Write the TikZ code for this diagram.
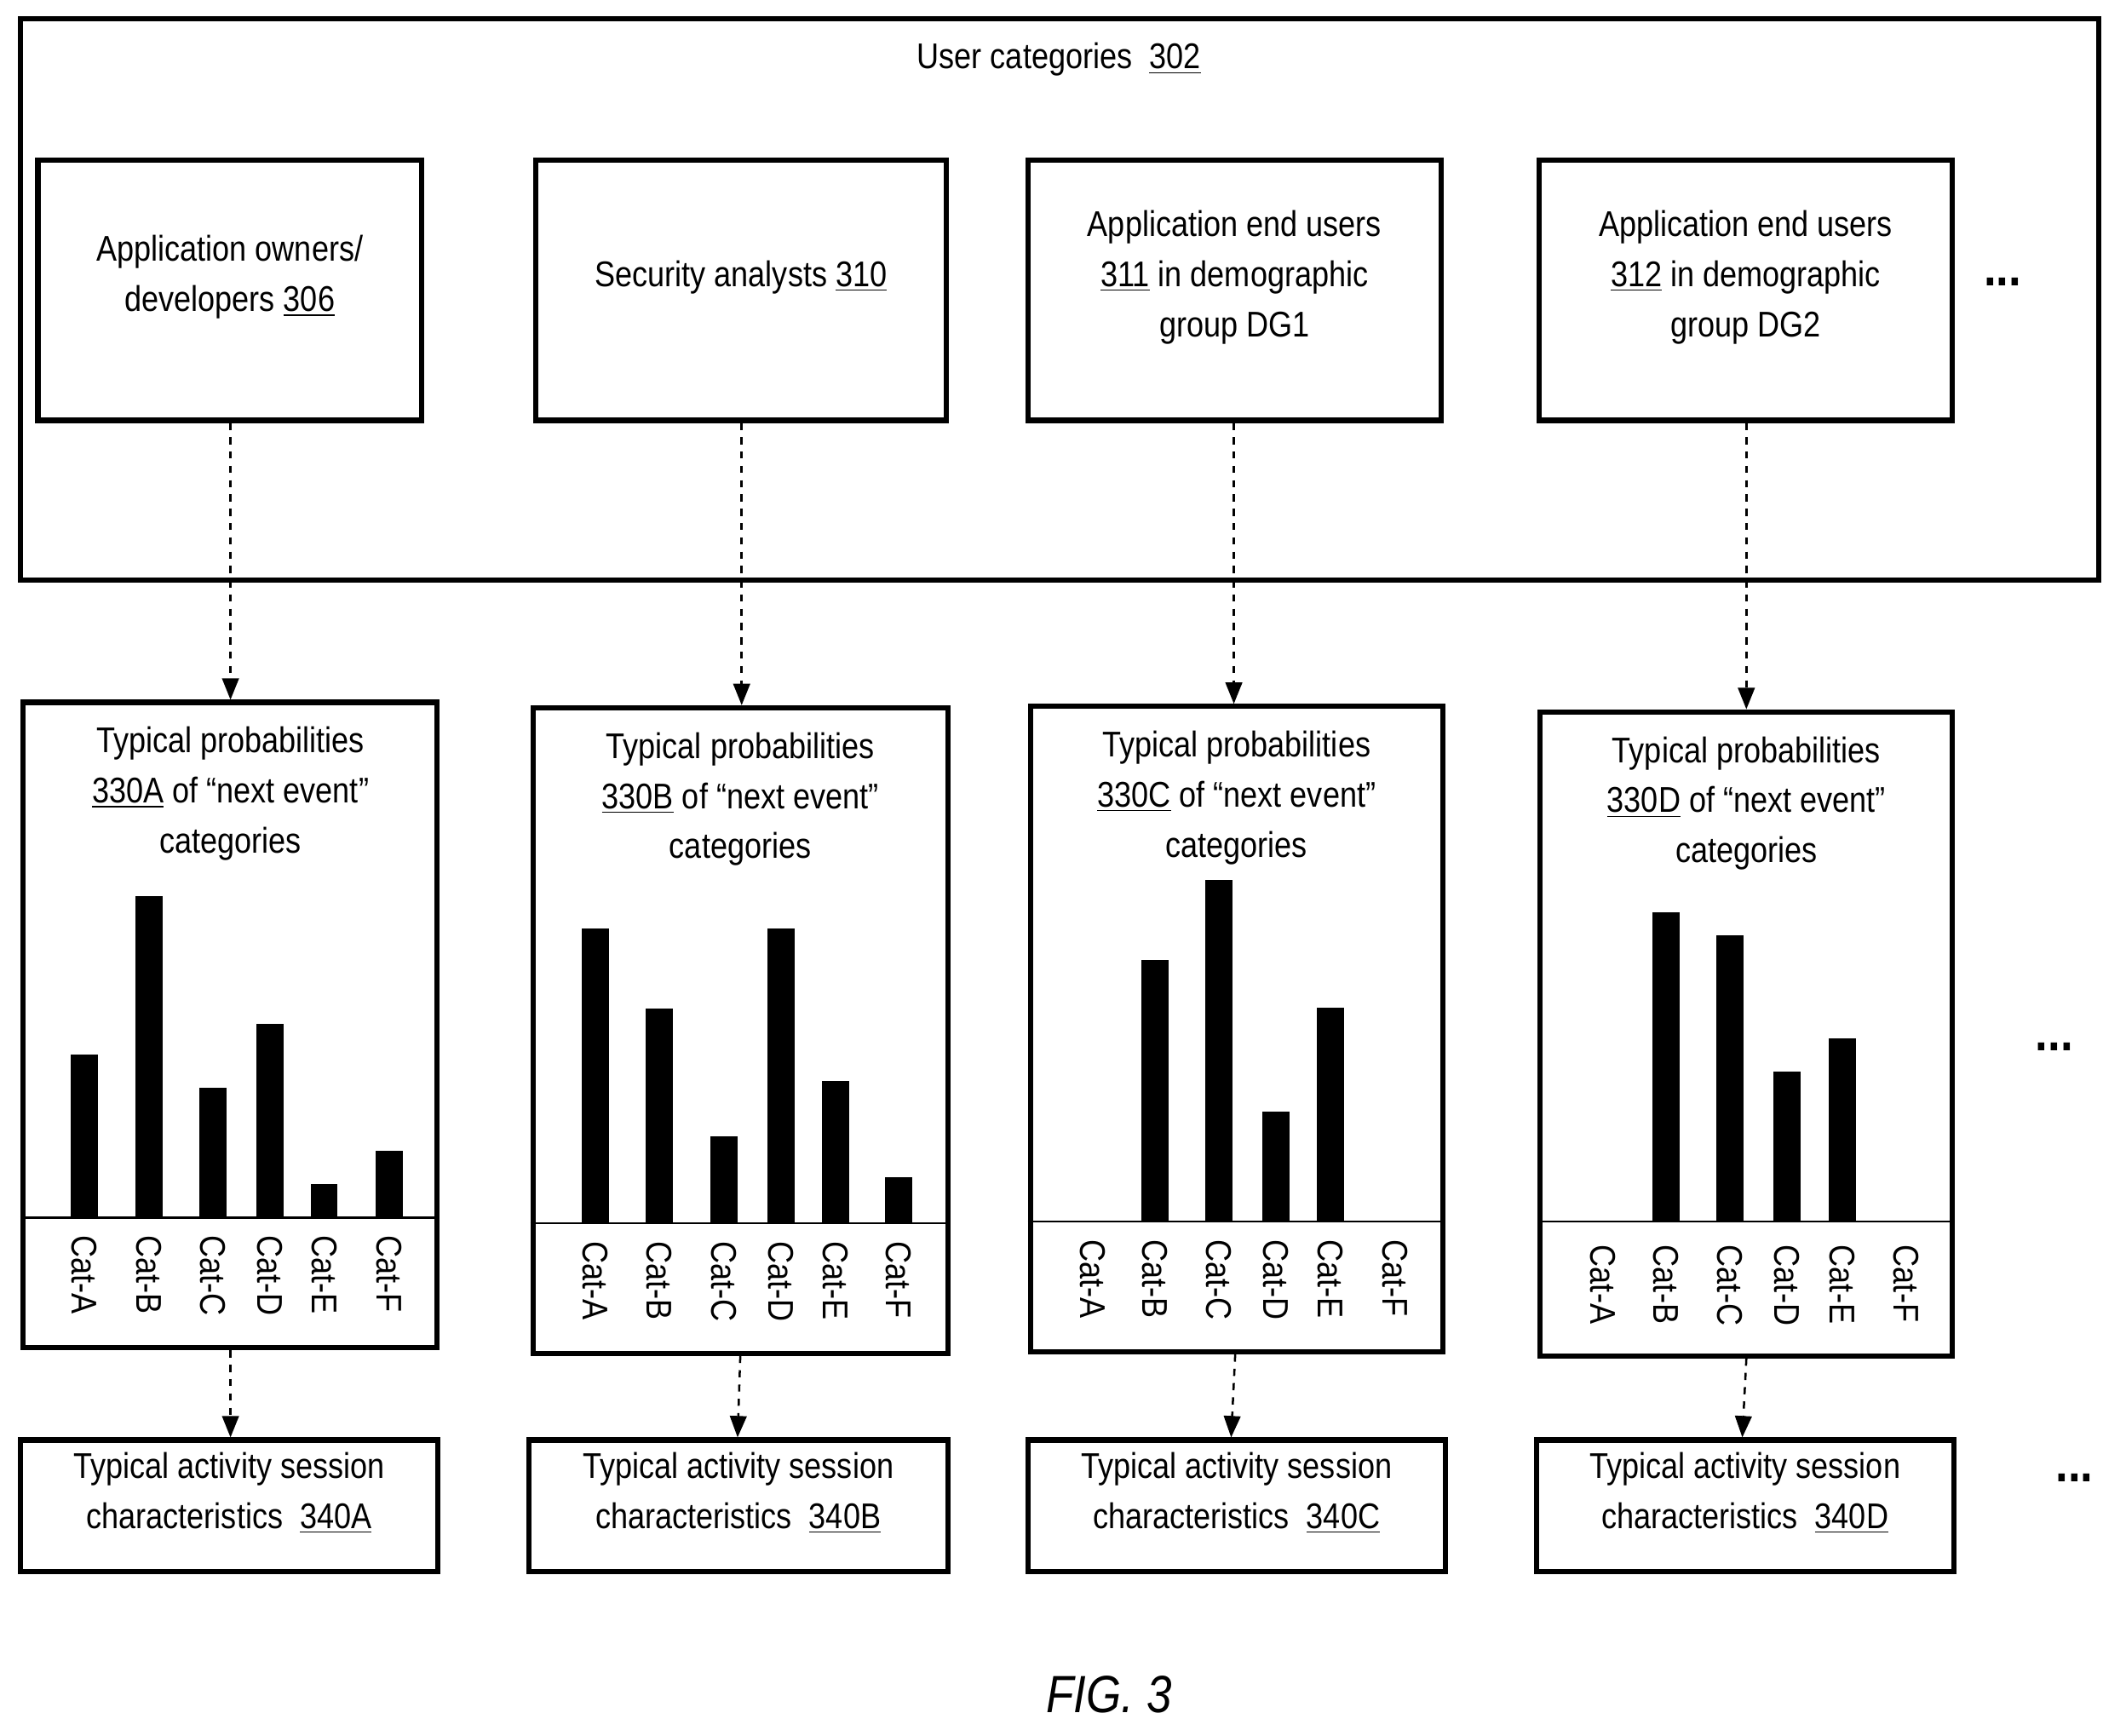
\documentclass[tikz,border=0pt]{standalone}
\usepackage{fontspec}
\setmainfont{Liberation Sans}[FakeStretch=0.86]
\usetikzlibrary{fit,arrows.meta}
\begin{document}
\begin{tikzpicture}[x=0.02cm,y=-0.02cm,
  box/.style={draw,line width=2.2pt,inner sep=0pt,align=center,font=\fontsize{15}{21}\selectfont},
  txt/.style={font=\fontsize{15}{21}\selectfont,align=center},
  darr/.style={dashed,line width=0.9pt,-{Triangle[length=9pt,width=7pt]}},
  cat/.style={font=\fontsize{15}{18}\selectfont,rotate=-90,anchor=west,inner sep=0pt}]
\useasboundingbox (0,0) rectangle (1568,1280);
\node[box,fit={(15,14)(1548,428)}] (outer) {};
\node[txt] (title) at (781,44) {User categories \ \underline{302}};
\node[box,fit={(28,118)(311,310)}] (t1) {Application owners/\\developers \underline{306}};
\node[box,fit={(395,118)(698,310)}] (t2) {Security analysts \underline{310}};
\node[box,fit={(758,118)(1063,310)}] (t3) {Application end users\\\underline{311} in demographic\\group DG1};
\node[box,fit={(1135,118)(1440,310)}] (t4) {Application end users\\\underline{312} in demographic\\group DG2};
\node[txt,font=\fontsize{22}{22}\selectfont\bfseries] (d1) at (1477,208) {...};
% middle boxes
\node[box,fit={(17,518)(322,994)}] (m1) {};
\node[box,fit={(393,522)(699,998)}] (m2) {};
\node[box,fit={(760,521)(1064,997)}] (m3) {};
\node[box,fit={(1136,525)(1440,1000)}] (m4) {};
\node[txt,anchor=north] (h1) at (170,530) {Typical probabilities\\\underline{330A} of ``next event''\\categories};
\node[txt,anchor=north] (h2) at (546,534) {Typical probabilities\\\underline{330B} of ``next event''\\categories};
\node[txt,anchor=north] (h3) at (912,533) {Typical probabilities\\\underline{330C} of ``next event''\\categories};
\node[txt,anchor=north] (h4) at (1288,537) {Typical probabilities\\\underline{330D} of ``next event''\\categories};
% baselines
\draw[line width=0.8pt] (m1.west|-0,898) -- (m1.east|-0,898);
\draw[line width=0.8pt] (m2.west|-0,902) -- (m2.east|-0,902);
\draw[line width=0.8pt] (m3.west|-0,901) -- (m3.east|-0,901);
\draw[line width=0.8pt] (m4.west|-0,901) -- (m4.east|-0,901);
\foreach \x/\t in {62/778,110/661,157/802,199/755,239/873,287/849}
  \fill (\x-10,\t) rectangle (\x+10,898);
\foreach \x/\t in {439/685,486/744,534/838,576/685,616/797,663/868}
  \fill (\x-10,\t) rectangle (\x+10,902);
\foreach \x/\t in {852/708,899/649,941/820,981/743}
  \fill (\x-10,\t) rectangle (\x+10,901);
\foreach \x/\t in {1229/673,1276/690,1318/790,1359/766}
  \fill (\x-10,\t) rectangle (\x+10,901);
\foreach \x/\c in {62/A,110/B,157/C,199/D,239/E,287/F} \node[cat] at (\x,911) {Cat-\c};
\foreach \x/\c in {439/A,486/B,534/C,576/D,616/E,663/F} \node[cat] at (\x,915) {Cat-\c};
\foreach \x/\c in {806/A,852/B,899/C,941/D,981/E,1029/F} \node[cat] at (\x,914) {Cat-\c};
\foreach \x/\c in {1182/A,1229/B,1276/C,1318/D,1359/E,1406/F} \node[cat] at (\x,918) {Cat-\c};
\node[txt,font=\fontsize{22}{22}\selectfont\bfseries] (d2) at (1515,772) {...};
% bottom boxes
\node[box,fit={(15,1062)(323,1159)}] (b1) {Typical activity session\\characteristics \ \underline{340A}};
\node[box,fit={(390,1062)(699,1159)}] (b2) {Typical activity session\\characteristics \ \underline{340B}};
\node[box,fit={(758,1062)(1066,1159)}] (b3) {Typical activity session\\characteristics \ \underline{340C}};
\node[box,fit={(1133,1062)(1441,1159)}] (b4) {Typical activity session\\characteristics \ \underline{340D}};
\node[txt,font=\fontsize{22}{22}\selectfont\bfseries] (d3) at (1530,1090) {...};
% arrows
\draw[darr] (t1.south-|170,0) -- (m1.north-|170,0);
\draw[darr] (t2.south-|547,0) -- (m2.north-|547,0);
\draw[darr] (t3.south-|910,0) -- (m3.north-|910,0);
\draw[darr] (t4.south-|1288,0) -- (m4.north-|1288,0);
\draw[darr] (m1.south-|170,0) -- (b1.north-|170,0);
\draw[darr] (m2.south-|546,0) -- (b2.north-|544,0);
\draw[darr] (m3.south-|911,0) -- (b3.north-|908,0);
\draw[darr] (m4.south-|1288,0) -- (b4.north-|1285,0);
\node[txt,font=\fontsize{22}{22}\selectfont\itshape] (fig) at (818,1250) {FIG. 3};
\end{tikzpicture}
\end{document}
